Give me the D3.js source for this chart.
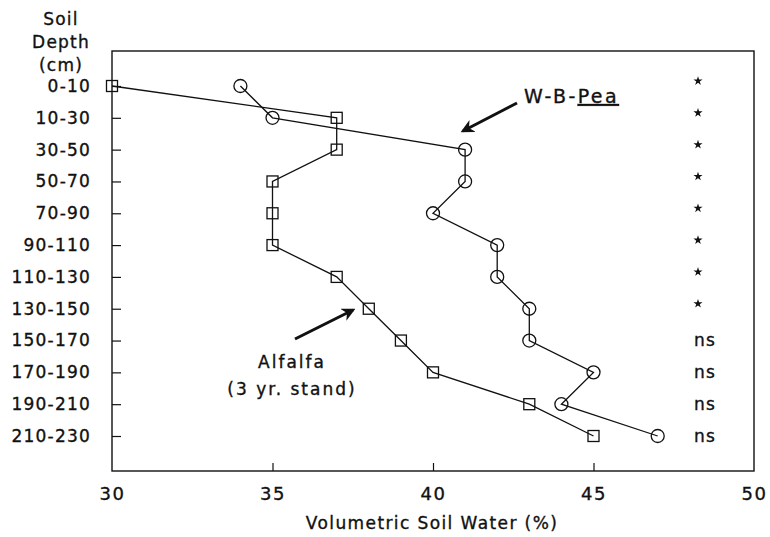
<!DOCTYPE html>
<html>
<head>
<meta charset="utf-8">
<script src="https://cdn.jsdelivr.net/npm/d3@7"></script>
<style>
  body { margin: 0; background: #fff; }
  text { font-family: "DejaVu Sans", sans-serif; fill: #111; stroke: #111; stroke-width: 0.35px; }
</style>
</head>
<body>
<div id="chart"></div>
<script>
const depths = ["0-10", "10-30", "30-50", "50-70", "70-90", "90-110",
  "110-130", "130-150", "150-170", "170-190", "190-210", "210-230"];
const alfalfa = [30, 37, 37, 35, 35, 35, 37, 38, 39, 40, 43, 45];
const wbPea = [34, 35, 41, 41, 40, 42, 42, 43, 43, 45, 44, 47];
const signif = ["*", "*", "*", "*", "*", "*", "*", "*", "ns", "ns", "ns", "ns"];
const xTicks = [30, 35, 40, 45, 50];

const width = 770, height = 537;
const frame = {left: 112, right: 754, top: 51, bottom: 471};

const x = d3.scaleLinear().domain([30, 50]).range([frame.left, frame.right]);
const y = d3.scalePoint().domain(depths).range([86, 436]);

const svg = d3.select("#chart").append("svg")
    .attr("width", width)
    .attr("height", height);

// frame
svg.append("rect")
    .attr("x", frame.left)
    .attr("y", frame.top)
    .attr("width", frame.right - frame.left)
    .attr("height", frame.bottom - frame.top)
    .attr("fill", "none")
    .attr("stroke", "#111")
    .attr("stroke-width", 1.4);

// y axis: inward ticks, labels to the left
const yAxis = svg.append("g")
    .attr("transform", "translate(" + frame.left + ",0)")
    .call(d3.axisLeft(y).tickSizeInner(-9).tickSizeOuter(0).tickPadding(21));
yAxis.select(".domain").remove();
yAxis.selectAll(".tick line").attr("stroke", "#111").attr("stroke-width", 1.2);
yAxis.selectAll(".tick text")
    .attr("font-size", 17)
    .attr("letter-spacing", "1.2px")
    .attr("fill", "#111")
    .attr("font-family", "DejaVu Sans");

// x axis: inward ticks at 35, 40, 45
const xAxis = svg.append("g")
    .attr("transform", "translate(0," + frame.bottom + ")")
    .call(d3.axisBottom(x).tickValues(xTicks).tickSizeInner(-8).tickSizeOuter(0).tickPadding(16));
xAxis.select(".domain").remove();
xAxis.selectAll(".tick line")
    .attr("stroke", "#111")
    .attr("stroke-width", 1.2)
    .filter((d) => d === 30 || d === 50).remove();
xAxis.selectAll(".tick text")
    .attr("font-size", 18)
    .attr("letter-spacing", "1.5px")
    .attr("fill", "#111")
    .attr("font-family", "DejaVu Sans");

// axis titles
svg.append("text")
    .attr("x", 432)
    .attr("y", 529)
    .attr("text-anchor", "middle")
    .attr("font-size", 17)
    .attr("letter-spacing", "1.4px")
    .text("Volumetric Soil Water (%)");

svg.selectAll(".ytitle")
    .data(["Soil", "Depth", "(cm)"])
    .enter().append("text")
    .attr("class", "ytitle")
    .attr("x", 61)
    .attr("y", (d, i) => 25 + i * 23)
    .attr("text-anchor", "middle")
    .attr("font-size", 17)
    .attr("letter-spacing", "1.2px")
    .text((d) => d);

// lines
const line = d3.line()
    .x((d) => x(d.v))
    .y((d) => y(d.depth));

const alfalfaPts = depths.map((d, i) => ({depth: d, v: alfalfa[i]}));
const peaPts = depths.map((d, i) => ({depth: d, v: wbPea[i]}));

svg.append("path")
    .datum(alfalfaPts)
    .attr("d", line)
    .attr("fill", "none")
    .attr("stroke", "#111")
    .attr("stroke-width", 1.3);

svg.append("path")
    .datum(peaPts)
    .attr("d", line)
    .attr("fill", "none")
    .attr("stroke", "#111")
    .attr("stroke-width", 1.3);

// markers
svg.append("g").selectAll("rect")
    .data(alfalfaPts)
    .enter().append("rect")
    .attr("x", (d) => x(d.v) - 5.5)
    .attr("y", (d) => y(d.depth) - 5.5)
    .attr("width", 11)
    .attr("height", 11)
    .attr("fill", "none")
    .attr("stroke", "#111")
    .attr("stroke-width", 1.3);

svg.append("g").selectAll("circle")
    .data(peaPts)
    .enter().append("circle")
    .attr("cx", (d) => x(d.v))
    .attr("cy", (d) => y(d.depth))
    .attr("r", 6.5)
    .attr("fill", "none")
    .attr("stroke", "#111")
    .attr("stroke-width", 1.3);

// significance column
const sig = svg.append("g").selectAll("g")
    .data(depths.map((d, i) => ({depth: d, s: signif[i]})))
    .enter().append("g")
    .attr("transform", (d) => "translate(698," + y(d.depth) + ")");
sig.filter((d) => d.s === "*").append("path")
    .attr("transform", "translate(0,-5)")
    .attr("d", d3.symbol(d3.symbolStar).size(26))
    .attr("fill", "#111");
sig.filter((d) => d.s !== "*").append("text")
    .attr("x", 7)
    .attr("dy", "0.35em")
    .attr("text-anchor", "middle")
    .attr("font-size", 17)
    .attr("letter-spacing", "1.2px")
    .text((d) => d.s);

// annotations
const defs = svg.append("defs");
defs.append("marker")
    .attr("id", "arrow")
    .attr("viewBox", "0 0 10 10")
    .attr("refX", 8)
    .attr("refY", 5)
    .attr("markerWidth", 4.5)
    .attr("markerHeight", 4.5)
    .attr("orient", "auto")
  .append("path")
    .attr("d", "M0,0L10,5L0,10L3,5Z")
    .attr("fill", "#111");

svg.append("line")
    .attr("x1", 517).attr("y1", 103)
    .attr("x2", 463).attr("y2", 131)
    .attr("stroke", "#111")
    .attr("stroke-width", 3)
    .attr("marker-end", "url(#arrow)");

svg.append("line")
    .attr("x1", 295).attr("y1", 339)
    .attr("x2", 353).attr("y2", 310)
    .attr("stroke", "#111")
    .attr("stroke-width", 3)
    .attr("marker-end", "url(#arrow)");

const pea = svg.append("text")
    .attr("x", 524)
    .attr("y", 103)
    .attr("font-size", 19)
    .attr("letter-spacing", "2.4px");
pea.append("tspan").text("W-B-");
pea.append("tspan").attr("text-decoration", "underline").text("Pea");

svg.append("text")
    .attr("x", 292)
    .attr("y", 368)
    .attr("text-anchor", "middle")
    .attr("font-size", 17)
    .attr("letter-spacing", "2px")
    .text("Alfalfa");

svg.append("text")
    .attr("x", 292)
    .attr("y", 395)
    .attr("text-anchor", "middle")
    .attr("font-size", 17)
    .attr("letter-spacing", "2px")
    .text("(3 yr. stand)");
</script>
</body>
</html>
